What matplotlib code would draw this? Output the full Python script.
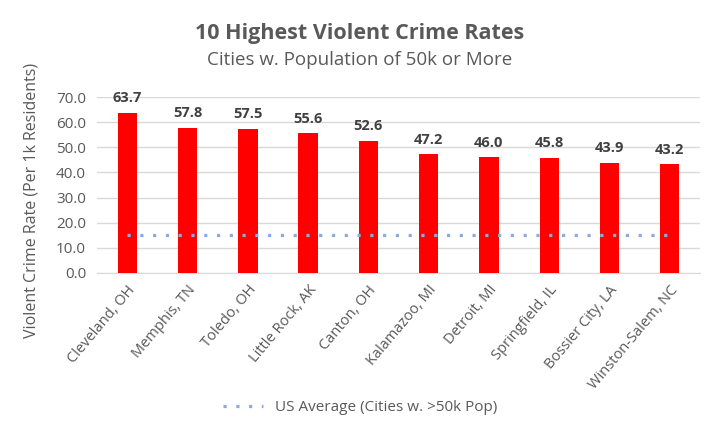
import matplotlib
matplotlib.use("Agg")
import matplotlib.pyplot as plt
import numpy as np

cities = ["Cleveland, OH", "Memphis, TN", "Toledo, OH", "Little Rock, AK", "Canton, OH",
          "Kalamazoo, MI", "Detroit, MI", "Springfield, IL", "Bossier City, LA", "Winston-Salem, NC"]
rates = [63.7, 57.8, 57.5, 55.6, 52.6, 47.2, 46.0, 45.8, 43.9, 43.2]
us_avg = [15.0] * len(cities)
yticks = [0, 10, 20, 30, 40, 50, 60, 70]

plt.rcParams['font.family'] = ['Open Sans', 'DejaVu Sans']

fig = plt.figure(figsize=(7.2, 4.48), dpi=100)
ax = fig.add_axes([0.135, 0.391, 0.837, 0.392])

x = np.arange(len(cities))
ax.bar(x, rates, width=0.32, color='#FF0000', zorder=3)
line, = ax.plot(x, us_avg, linestyle=(0, (1, 3)), color='#8EA9DB', linewidth=2.3,
                dash_capstyle='butt', zorder=4, label='US Average (Cities w. >50k Pop)')

for xi, v in zip(x, rates):
    ax.text(xi, v + 3.0, f"{v:.1f}", ha='center', va='bottom', fontsize=10.5,
            fontweight='bold', color='#404040')

ax.set_xlim(-0.5, len(cities) - 0.5)
ax.set_ylim(0, 70)
ax.set_yticks(yticks)
ax.set_yticklabels([f"{t:.1f}" for t in yticks])
ax.yaxis.grid(True, color='#D9D9D9', linewidth=1, zorder=0)
ax.set_axisbelow(True)
for s in ['top', 'right', 'left']:
    ax.spines[s].set_visible(False)
ax.spines['bottom'].set_color('#D9D9D9')
ax.tick_params(axis='y', length=0, colors='#595959', labelsize=11, pad=8)
ax.tick_params(axis='x', length=0, colors='#595959', labelsize=10.5, pad=7)
ax.set_xticks(x)
ax.set_xticklabels(cities, rotation=50, ha='right', rotation_mode='anchor')
ax.set_ylabel("Violent Crime Rate (Per 1k Residents)", fontsize=11.5, color='#595959')
ax.yaxis.set_label_coords(-0.095, 0.41)

fig.text(0.5, 0.925, "10 Highest Violent Crime Rates", ha='center', va='center',
         fontsize=15.5, fontweight='bold', color='#595959')
fig.text(0.5, 0.865, "Cities w. Population of 50k or More", ha='center', va='center',
         fontsize=13.5, color='#595959')

fig.legend(handles=[line], loc='center', bbox_to_anchor=(0.5, 0.09), frameon=False,
           fontsize=11, labelcolor='#595959', handlelength=2.6)

fig.savefig("out.png", dpi=100, facecolor='white')
